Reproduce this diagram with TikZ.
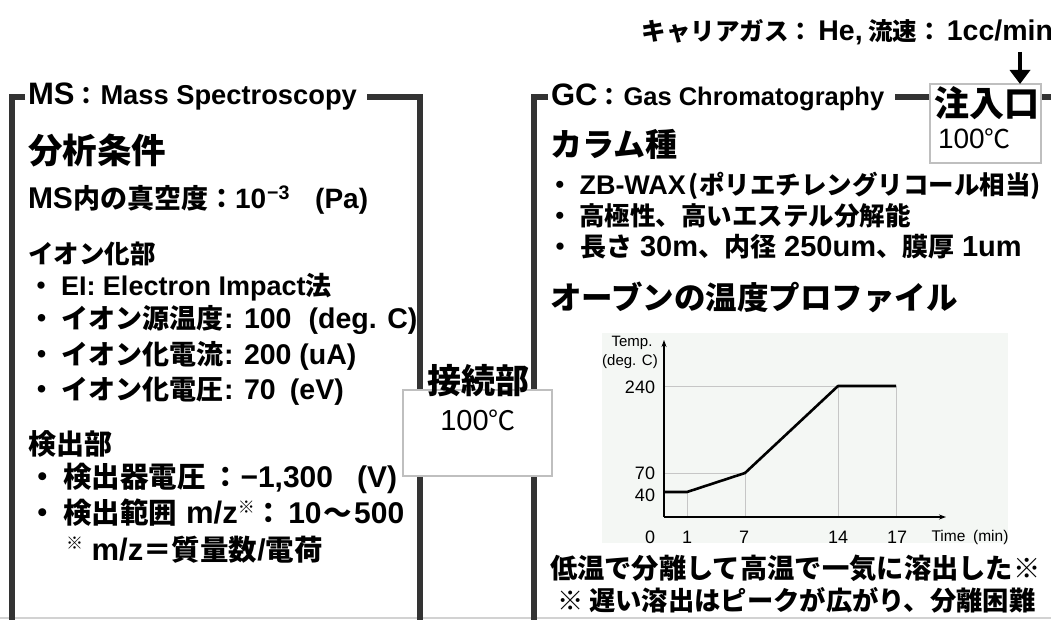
\documentclass[tikz,border=0pt]{standalone}
\usepackage{fontspec}
\setmainfont{Noto Sans CJK JP}
\newfontfamily\lib{Liberation Sans}
\usetikzlibrary{arrows.meta}
\newcommand\fsz[1]{\fontsize{#1}{#1}\selectfont}
\newcommand\La[2]{{\lib\fsz{#1}#2}}
\newcommand\bul{・\kern7pt}
\newcommand\smref{\raisebox{0.38em}{\fsz{17}※}}
\definecolor{framec}{HTML}{333333}
\definecolor{lgray}{HTML}{BFBFBF}
\definecolor{chartbg}{HTML}{F4F7F4}
\begin{document}
\begin{tikzpicture}[x=1pt,y=-1pt,
  every node/.style={inner sep=0pt, outer sep=0pt},
  tx/.style={anchor=west, font=\bfseries},
  frameline/.style={draw=framec, line width=6pt},
  lbox/.style={draw=lgray, line width=2.5pt, fill=white},
  gridl/.style={draw=gray!45, line width=0.7pt},
  prof/.style={draw=black, line width=2.6pt, line join=round},
  ax/.style={draw=black, line width=1.6pt, -{Stealth[length=7pt,width=5pt]}},
  lab/.style={font=\lib\fsz{18}},
  arr/.style={draw=black, line width=3.5pt, -{Triangle[length=14pt,width=20pt]}},
]
\useasboundingbox[fill=white] (0,0) rectangle (1051,620);
\draw[gray!35, line width=1.5pt] (0,618) -- (1051,618);

% frames
\draw[frameline] (25,97) -- (12,97) -- (12,625);
\draw[frameline] (367,97) -- (420,97) -- (420,625);
\draw[frameline] (548,97) -- (534,97) -- (534,625);
\draw[frameline] (895,97) -- (932,97);
\draw[frameline] (1040,97) -- (1055,97);

% titles
\node[tx] (mst) at (28,97) {\La{31}{MS}\fsz{24}：\kern2pt\La{27.3}{Mass Spectroscopy}};
\node[tx] (gct) at (551,97) {\La{31}{GC}\fsz{24}：\kern2pt\La{25.5}{Gas Chromatography}};

% boxes
\node[lbox, minimum width=111, minimum height=79] (inj) at (985.5,123.5) {};
\node[lbox, minimum width=149, minimum height=86] (jn) at (477.5,433) {};

% carrier gas
\node[anchor=east, font=\bfseries\fsz{24.5}] (carrier) at (1053,32) {キャリアガス：\kern5pt\La{28.5}{He,} 流速：\kern5pt\La{28.5}{1cc/min}};
\coordinate (arrtop) at (1020,52);
\draw[arr] (arrtop) -- (arrtop |- inj.north);

\node[font=\bfseries\fsz{35}] (injt) at (987,103) {注入口};
\node[anchor=west] (injv) at (938,139) {\La{28}{100}\fsz{26}℃};
\node[font=\bfseries\fsz{34}] (jnt) at (478,381) {接続部};
\node (jnv) at (478,420) {\La{29}{100}\fsz{27}℃};

% MS contents
\node[tx] (ms1) at (28,150) {\fsz{34.5}分析条件};
\node[tx] (ms2) at (28,200) {\fsz{27}\La{30}{MS}内の真空度：\La{28}{10\kern1pt\textsuperscript{−3}\hspace{0.9em}(Pa)}};
\node[tx] (ms3) at (28,254) {\fsz{25.5}イオン化部};
\node[tx] (ms4) at (28,287) {\fsz{26}\bul\La{27}{EI: Electron Impact}法};
\node[tx] (ms5) at (28,320) {\fsz{27}\bul イオン源温度\La{28.5}{: 100\hspace{0.6em}(deg. C)}};
\node[tx] (ms6) at (28,356) {\fsz{27}\bul イオン化電流\La{28.5}{: 200 (uA)}};
\node[tx] (ms7) at (28,391) {\fsz{27}\bul イオン化電圧\La{28.5}{: 70\hspace{0.5em}(eV)}};
\node[tx] (ms8) at (28,444) {\fsz{28}検出部};
\node[tx] (ms9) at (28,478) {\fsz{28.5}\bul 検出器電圧\kern6pt：\La{30}{−1,300\hspace{0.8em}(V)}};
\node[tx] (ms10) at (28,513) {\fsz{28.5}\bul 検出範囲\La{31}{ m/z}\smref：\kern5pt\La{30}{10}\kern2pt〜\kern2pt\La{30}{500}};
\node[tx] (ms11) at (66,550) {\fsz{28.5}\smref\La{31}{ m/z}＝質量数\La{30}{/}電荷};

% GC contents
\node[tx] (gc1) at (550,144) {\fsz{32}カラム種};
\node[tx] (gc2) at (547,186) {\fsz{25.5}\bul\La{27}{ZB-WAX}\kern3pt(ポリエチレングリコール相当)};
\node[tx] (gc3) at (547,216) {\fsz{25.5}\bul 高極性、高いエステル分解能};
\node[tx] (gc4) at (547,247) {\fsz{26}\bul 長さ\La{29}{ 30m}、内径\La{29}{ 250um}、膜厚\La{29}{ 1um}};
\node[tx] (gc5) at (550,297) {\fsz{31.5}オーブンの温度プロファイル};

% chart
\fill[chartbg] (602,333) rectangle (1008,543);
\draw[gridl] (664,386) -- (838,386);
\draw[gridl] (664,473) -- (745,473);
\draw[gridl] (687,492) -- (687,517);
\draw[gridl] (745,473) -- (745,517);
\draw[gridl] (838,386) -- (838,517);
\draw[gridl] (896,386) -- (896,517);
\draw[ax] (664,517) -- (664,340);
\draw[ax] (664,517) -- (946,517);
\draw[prof] (664,492) -- (687,492) -- (745,473) -- (838,386) -- (896,386);
\node[lab, font=\lib\fsz{15}] (ylab1) at (632,343) {Temp.};
\node[lab, font=\lib\fsz{15}] (ylab2) at (630,362) {(deg. C)};
\node[lab] (y240) at (640,387) {240};
\node[lab] (y70) at (645,473) {70};
\node[lab] (y40) at (645,495) {40};
\node[lab] (x0) at (650,537) {0};
\node[lab] (x1) at (687,537) {1};
\node[lab] (x7) at (744,537) {7};
\node[lab] (x14) at (838,537) {14};
\node[lab] (x17) at (897,537) {17};
\node[lab, font=\lib\fsz{15.5}] (xlab) at (970,537) {Time\hspace{0.5em}(min)};

\node[tx] (n1) at (550,568) {\fsz{27.3}低温で分離して高温で一気に溶出した※};
\node[tx] (n2) at (557,600) {\fsz{26.3}※ 遅い溶出はピークが広がり、分離困難};
\end{tikzpicture}
\end{document}
